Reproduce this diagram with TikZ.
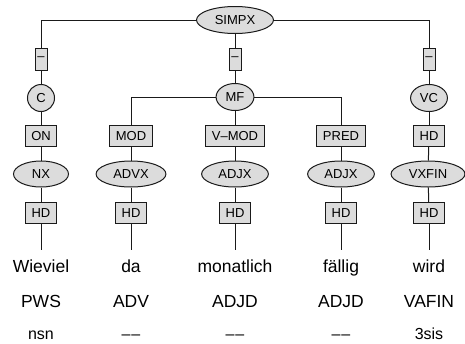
\documentclass[tikz,border=0pt]{standalone}
\usepackage{fontspec}
\setmainfont{Liberation Sans}
\usetikzlibrary{shapes.geometric}
\definecolor{treefill}{HTML}{DCDCDC}
\definecolor{treeline}{HTML}{1A1A1A}

\begin{document}
\begin{tikzpicture}[x=1pt, y=-1pt, line width=1pt, draw=treeline, every node/.style={font=\fontsize{13}{15}\selectfont}, phrase/.style={ellipse, draw=treeline, fill=treefill, inner xsep=7pt, inner ysep=0pt, minimum width=55pt, minimum height=26pt}, field/.style={ellipse, draw=treeline, fill=treefill, inner xsep=4pt, inner ysep=0pt, minimum width=27pt, minimum height=27pt}, func/.style={rectangle, draw=treeline, fill=treefill, inner xsep=6pt, inner ysep=0pt, minimum height=21pt}, blank/.style={rectangle, draw=treeline, fill=treefill, inner xsep=2pt, inner ysep=0pt, minimum width=12pt, minimum height=22pt}, word/.style={font=\fontsize{17.5}{20}\selectfont, anchor=base, inner ysep=9.5pt, text height=12.5pt, text depth=4pt}, postag/.style={font=\fontsize{17.5}{20}\selectfont, anchor=base}, morph/.style={font=\fontsize{16}{18}\selectfont, anchor=base}]
\useasboundingbox (0,0) rectangle (465,343);
\node[phrase, minimum height=27pt] (simpx) at (235,20) {SIMPX};
\node[blank] (gapc) at (41,59) {–};
\node[blank] (gapmf) at (235,59) {–};
\node[blank] (gapvc) at (429,59) {–};
\node[field] (c) at (41,98) {C};
\node[field] (mf) at (235,97) {MF};
\node[field] (vc) at (429,98) {VC};
\node[func] (on) at (41,136) {ON};
\node[func] (mod) at (131,136) {MOD};
\node[func] (vmod) at (235,136) {V–MOD};
\node[func] (pred) at (341,136) {PRED};
\node[func] (hdvc) at (429,136) {HD};
\node[phrase] (nx) at (41,174) {NX};
\node[phrase] (advx) at (131,174) {ADVX};
\node[phrase] (adjxa) at (235,174) {ADJX};
\node[phrase] (adjxb) at (341,174) {ADJX};
\node[phrase] (vxfin) at (428,174) {VXFIN};
\node[func] (hdnx) at (41,213) {HD};
\node[func] (hdadvx) at (131,213) {HD};
\node[func] (hdadjxa) at (235,213) {HD};
\node[func] (hdadjxb) at (341,213) {HD};
\node[func] (hdvxfin) at (429,213) {HD};
\node[word] (wieviel) at (41,272) {Wieviel};
\node[word] (da) at (131,272) {da};
\node[word] (monatlich) at (235,272) {monatlich};
\node[word] (faellig) at (341,272) {fällig};
\node[word] (wird) at (429,272) {wird};
\node[postag] (pws) at (41,307) {PWS};
\node[postag] (adv) at (131,307) {ADV};
\node[postag] (adjda) at (235,307) {ADJD};
\node[postag] (adjdb) at (341,307) {ADJD};
\node[postag] (vafin) at (429,307) {VAFIN};
\node[morph] (nsn) at (41,339) {nsn};
\node[morph] (morphda) at (131,339) {–\kern1pt–};
\node[morph] (morphmo) at (235,339) {–\kern1pt–};
\node[morph] (morphfa) at (341,339) {–\kern1pt–};
\node[morph] (sis) at (429,339) {3sis};
% top level
\draw (simpx) -| (gapc);
\draw (simpx) -- (gapmf);
\draw (simpx) -| (gapvc);
\draw (gapc) -- (c);
\draw (gapmf) -- (mf);
\draw (gapvc) -- (vc);
% fields
\draw (c) -- (on);
\draw (mf) -| (mod);
\draw (mf) -- (vmod);
\draw (mf) -| (pred);
\draw (vc) -- (hdvc);
% phrases
\draw (on) -- (nx);
\draw (mod) -- (advx);
\draw (vmod) -- (adjxa);
\draw (pred) -- (adjxb);
\draw (hdvc) -- (vxfin);
\draw (nx) -- (hdnx);
\draw (advx) -- (hdadvx);
\draw (adjxa) -- (hdadjxa);
\draw (adjxb) -- (hdadjxb);
\draw (vxfin) -- (hdvxfin);
% words
\draw (hdnx) -- (wieviel);
\draw (hdadvx) -- (da);
\draw (hdadjxa) -- (monatlich);
\draw (hdadjxb) -- (faellig);
\draw (hdvxfin) -- (wird);
\end{tikzpicture}
\end{document}
